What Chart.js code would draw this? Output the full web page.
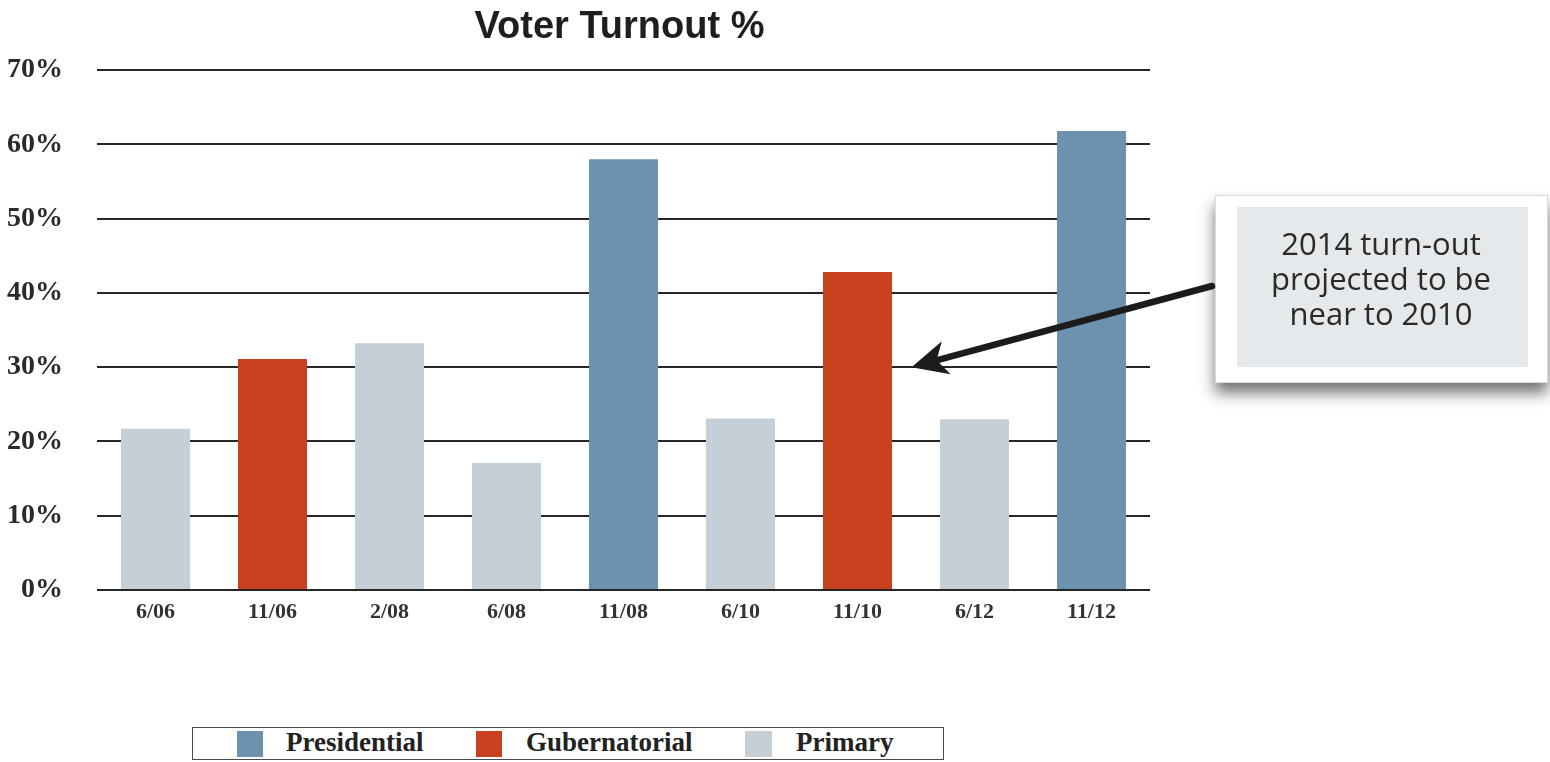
<!DOCTYPE html>
<html><head><meta charset="utf-8">
<script src="https://cdn.jsdelivr.net/npm/chart.js@4.4.1/dist/chart.umd.min.js"></script>
<style>
html,body{margin:0;padding:0;background:#fff;}
#wrap{position:relative;width:1550px;height:762px;overflow:hidden;}
#legend{position:absolute;left:192px;top:727px;width:752px;height:33px;box-sizing:border-box;border:1.5px solid #4a4a4a;background:#fff;}
.sq{position:absolute;top:3px;width:26px;height:26px;}
.lt{position:absolute;top:-1px;line-height:31px;font:bold 27px "Liberation Serif",serif;color:#222;white-space:nowrap;}
</style></head><body>
<div id="wrap"><canvas id="c" width="1550" height="762"></canvas><div id="legend"></div></div>
<script>
// ---- data ----
const categories = ['6/06','11/06','2/08','6/08','11/08','6/10','11/10','6/12','11/12'];
const presidential = [null, null, null, null, 58.0, null, null, null, 61.8];
const gubernatorial = [null, 31.1, null, null, null, null, 42.8, null, null];
const primary = [21.7, null, 33.2, 17.1, null, 23.1, null, 23.0, null];
const yTicks = [0, 10, 20, 30, 40, 50, 60, 70];
const seriesNames = ['Presidential', 'Gubernatorial', 'Primary'];
const seriesColors = ['#6d92b0', '#c7411e', '#c5cfd7'];
const titleText = 'Voter Turnout %';
const calloutLines = ['2014 turn-out', 'projected to be', 'near to 2010'];
const arrowTarget = { category: '11/10', value: 30 };

// ---- html legend ----
const legendPos = [{sq:237, tx:286, w:26}, {sq:476, tx:526, w:26}, {sq:745, tx:796, w:27}];
const legend = document.getElementById('legend');
seriesNames.forEach((n, i) => {
  const s = document.createElement('div');
  s.className = 'sq';
  s.style.left = (legendPos[i].sq - 193) + 'px';
  s.style.width = legendPos[i].w + 'px';
  s.style.background = seriesColors[i];
  legend.appendChild(s);
  const t = document.createElement('div');
  t.className = 'lt';
  t.style.left = (legendPos[i].tx - 193) + 'px';
  t.textContent = n;
  legend.appendChild(t);
});

const decor = {
  id: 'decor',
  afterDraw(chart) {
    const ctx = chart.ctx;
    const ca = chart.chartArea;
    const xs = chart.scales.x, ys = chart.scales.y;
    ctx.save();
    // title
    ctx.fillStyle = '#1e1e1e';
    ctx.font = 'bold 38px "Liberation Sans", sans-serif';
    ctx.textAlign = 'center';
    ctx.textBaseline = 'alphabetic';
    ctx.fillText(titleText, (ca.left + ca.right) / 2 - 4, 38);

    // callout box
    const bx = 1215, by = 195, bw = 333, bh = 188;
    ctx.save();
    ctx.shadowColor = 'rgba(0,0,0,0.55)';
    ctx.shadowBlur = 14;
    ctx.shadowOffsetY = 10;
    ctx.fillStyle = '#ffffff';
    ctx.fillRect(bx, by, bw, bh);
    ctx.restore();
    ctx.strokeStyle = '#d8dcde';
    ctx.lineWidth = 1;
    ctx.strokeRect(bx + 0.5, by + 0.5, bw - 1, bh - 1);
    ctx.fillStyle = '#e5e9eb';
    ctx.fillRect(1237, 207, 291, 160);
    ctx.fillStyle = '#2a2a2a';
    ctx.font = '31px "Open Sans", sans-serif';
    ctx.textAlign = 'center';
    calloutLines.forEach((l, i) => ctx.fillText(l, 1381, 255 + i * 35));

    // arrow
    const tx = xs.getPixelForValue(categories.indexOf(arrowTarget.category)) + 54;
    const ty = ys.getPixelForValue(arrowTarget.value);
    const sx = 1212, sy = 286;
    const dx = sx - tx, dy = sy - ty, len = Math.hypot(dx, dy);
    const ux = dx / len, uy = dy / len, px = -uy, py = ux;
    ctx.strokeStyle = '#1c1c1c';
    ctx.lineWidth = 6.5;
    ctx.lineCap = 'round';
    ctx.beginPath();
    ctx.moveTo(sx, sy);
    ctx.lineTo(tx + ux * 22, ty + uy * 22);
    ctx.stroke();
    ctx.fillStyle = '#1c1c1c';
    ctx.beginPath();
    ctx.moveTo(tx, ty);
    ctx.lineTo(tx + ux * 36 + px * 17, ty + uy * 36 + py * 17);
    ctx.lineTo(tx + ux * 26, ty + uy * 26);
    ctx.lineTo(tx + ux * 36 - px * 17, ty + uy * 36 - py * 17);
    ctx.closePath();
    ctx.fill();
    ctx.restore();
  }
};

const mk = (i, data) => ({
  label: seriesNames[i], data, backgroundColor: seriesColors[i],
  barPercentage: 0.59, categoryPercentage: 1, grouped: false, borderWidth: 0
});

new Chart(document.getElementById('c'), {
  type: 'bar',
  data: {
    labels: categories,
    datasets: [mk(0, presidential), mk(1, gubernatorial), mk(2, primary)]
  },
  options: {
    responsive: false,
    animation: false,
    devicePixelRatio: 1,
    layout: { padding: { top: 70, right: 400, left: 0, bottom: 0 } },
    plugins: { legend: { display: false }, tooltip: { enabled: false }, title: { display: false } },
    scales: {
      x: {
        grid: { display: false },
        border: { display: false },
        ticks: { color: '#333', padding: 1, font: { family: '"Liberation Serif", serif', weight: 'bold', size: 22 } },
        afterFit: s => { s.height = 172; }
      },
      y: {
        min: 0, max: 70,
        afterBuildTicks: s => { s.ticks = yTicks.map(v => ({ value: v })); },
        ticks: { color: '#2a2a2a', padding: 34, callback: v => v + '%', font: { family: '"Liberation Serif", serif', weight: 'bold', size: 28 } },
        grid: { color: '#262626', lineWidth: 2, drawTicks: false },
        border: { display: false },
        afterFit: s => { s.width = 97; }
      }
    }
  },
  plugins: [decor]
});
</script>
</body></html>
